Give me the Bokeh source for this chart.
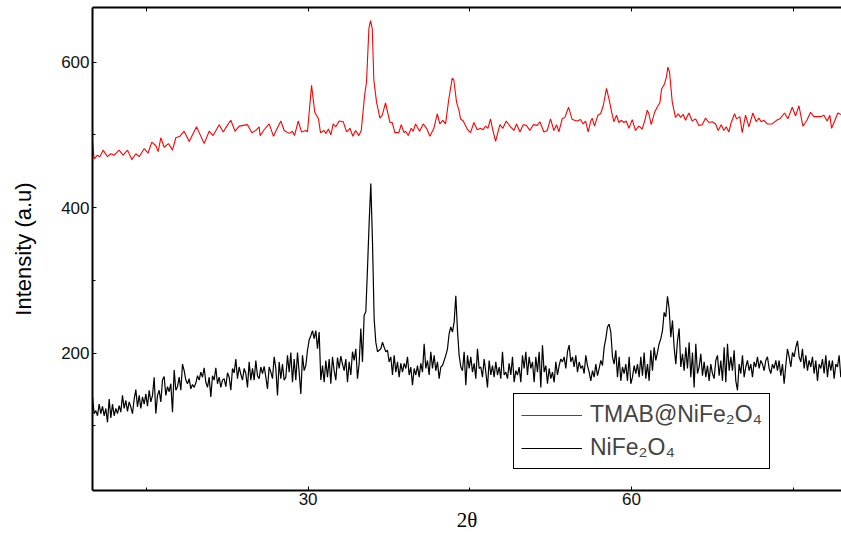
from bokeh.plotting import figure
from bokeh.models import (Range1d, SingleIntervalTicker, FixedTicker, LinearAxis,
                          Legend, LegendItem)
from bokeh.embed import file_html
from bokeh.resources import INLINE

# ---- data -------------------------------------------------------------
# TMAB@NiFe2O4 (red)
tmab_x = [10.00, 10.15, 10.46, 10.68, 10.99, 11.39, 11.70, 12.01, 12.47, 12.84, 13.25, 13.65, 14.02,
          14.33, 14.79, 15.16, 15.50, 15.88, 16.09, 16.34, 16.65, 17.05, 17.42, 17.73, 18.10, 18.50,
          18.97, 19.65, 19.96, 20.36, 20.82, 21.19, 21.75, 22.12, 22.46, 22.83, 23.23, 23.61, 23.98,
          24.38, 24.78, 25.15, 25.46, 25.55, 25.92, 26.39, 26.79, 27.07, 27.47, 27.78, 28.24, 28.55,
          28.74, 29.08, 29.39, 29.79, 29.94, 30.32, 30.62, 30.96, 31.15, 31.49, 31.65, 31.89, 32.11,
          32.33, 32.57, 32.88,
          33.26, 33.57, 33.88, 34.15, 34.40, 34.71, 34.93, 35.24, 35.42, 35.64, 35.79, 35.95, 36.10,
          36.35, 36.66, 36.88, 37.18, 37.59, 37.80, 38.05, 38.42, 38.64, 38.89, 39.04, 39.29, 39.57,
          39.75, 39.97, 40.34, 40.68, 40.99, 41.30, 41.67, 41.98, 42.22, 42.50, 42.75, 43.06, 43.37,
          43.52, 43.77, 43.99, 44.14, 44.39, 44.76, 45.07, 45.38, 45.69, 46.00, 46.24, 46.46, 46.68,
          46.92, 47.14, 47.39, 47.79, 48.07, 48.38, 48.78, 49.09, 49.34, 49.65, 49.95, 50.26, 50.57,
          50.88, 51.25, 51.50, 51.87, 52.18, 52.49, 52.80, 53.05, 53.26, 53.57, 53.82, 54.16, 54.50,
          54.96, 55.27, 55.52, 55.74, 55.98, 56.20,
          56.35, 56.57, 56.88, 57.13, 57.38, 57.68, 57.90, 58.12, 58.36, 58.61, 58.83, 59.04, 59.29,
          59.51, 59.76, 60.07, 60.37, 60.68, 60.99, 61.24, 61.46, 61.61, 61.83, 62.14, 62.38, 62.63,
          62.79, 63.06, 63.25, 63.37, 63.53, 63.78, 64.08, 64.33, 64.55, 64.80, 65.01, 65.32, 65.63,
          65.94, 66.25, 66.56, 66.87, 67.18, 67.49, 67.80, 68.04, 68.32, 68.57, 68.79, 69.03, 69.25,
          69.56, 69.74, 70.05, 70.27, 70.58, 70.89, 71.26, 71.57, 71.82, 72.03, 72.28, 72.59, 73.05,
          73.45, 73.76, 74.20, 74.51, 74.91, 75.22, 75.53, 75.90, 76.24, 76.61, 76.92, 77.54, 77.85,
          78.15, 78.40, 78.56, 78.87, 79.14, 79.42]
tmab_y = [491, 467, 472, 470, 479, 470, 474, 472, 479, 472, 479, 466, 474,
          470, 481, 475, 490, 485, 477, 496, 483, 488, 479, 496, 498, 505,
          491, 511, 501, 488, 505, 499, 514, 504, 512, 520, 505, 512, 513,
          514, 503, 506, 511, 499, 507, 515, 498, 507, 519, 506, 502, 505,
          499, 519, 504, 506, 504, 568, 531, 522, 503, 506, 502, 508, 500,
          515, 511, 519,
          518, 504, 509, 498, 506, 499, 506, 554, 573, 646, 657, 646, 575,
          545, 523, 527, 544, 517, 517, 503, 503, 514, 503, 505, 499, 509,
          505, 515, 505, 515, 509, 498, 509, 529, 515, 520, 515, 550, 578,
          575, 545, 534, 522, 519, 508, 503, 517, 507, 509, 507, 512, 509,
          522, 506, 491, 514, 509, 519, 511, 506, 515, 504, 514, 513, 506,
          514, 513, 518, 504, 506, 522, 506, 514, 504, 522, 524, 538, 521,
          519, 521, 515, 519, 504, 518,
          523, 512, 527, 529, 540, 564, 550, 534, 518, 527, 517, 520, 517,
          519, 509, 521, 506, 512, 508, 520, 534, 529, 514, 531, 538, 544,
          563, 570, 580, 593, 586, 545, 524, 529, 524, 528, 520, 530, 519,
          522, 513, 514, 523, 517, 518, 515, 506, 514, 506, 511, 504, 517,
          529, 522, 525, 503, 527, 511, 530, 518, 523, 518, 520, 515, 515,
          520, 522, 530, 522, 538, 526, 540, 512, 519, 531, 525, 525, 527,
          519, 527, 509, 520, 530, 528]

# NiFe2O4 (black): intensities on an even 2-theta grid
nife_start = 10.0
nife_step = 0.1546
nife_y = [140, 117, 121, 114, 130, 117, 127, 114, 124, 105, 137, 111, 130, 114, 124, 117, 128, 119,
          142, 124, 135, 120, 133, 126, 117, 137, 150, 126, 142, 124, 140, 130, 144, 127, 149, 133,
          142, 167, 117, 142, 149, 133, 163, 168, 142, 154, 147, 158, 119, 177, 149, 154, 167, 149,
          185, 176, 163, 158, 165, 151, 157, 153, 159, 169, 163, 174, 167, 180, 160, 153, 167, 140,
          169, 163, 180, 158, 167, 153, 163, 165, 154, 173, 167, 149, 179, 173, 192, 165, 181, 171,
          163, 179, 172, 153, 188, 163, 179, 163, 190, 169, 165, 181, 172, 182, 167, 151, 181, 174,
          165, 195, 179, 142, 188, 165, 185, 163, 167, 197, 174, 201, 160, 192, 163, 201, 174, 144,
          197, 176, 183, 204, 218, 224, 231, 220, 231, 206, 229, 163, 183, 160, 190, 167, 192, 158,
          195, 176, 163, 194, 179, 196, 185,
          176, 192, 160, 188, 170, 202, 190, 206, 165, 186, 234, 188, 252, 257, 316, 380, 433, 353,
          247, 215, 202, 204, 206, 215, 208, 202, 204, 188, 195, 170, 197, 174, 188, 167, 186, 174,
          186, 179, 195, 170, 181, 156, 179, 170, 183, 167, 186, 174, 213, 179, 190, 170, 202, 179,
          197, 176, 188, 165, 181, 183, 190, 197, 206, 227, 236, 229, 243, 279, 231, 197, 181, 176,
          202, 156, 197, 179, 195, 174, 186, 165, 206, 179, 181, 167, 192, 174, 153, 190, 170, 183,
          167, 188, 170, 181, 165, 202, 170, 174, 165, 186, 170, 195, 160, 176, 170, 181, 160, 197,
          179, 202, 170, 195, 179, 188, 160, 195, 174, 202, 153, 211, 174, 183, 158, 179, 165, 174,
          160, 188, 170, 183, 192, 188, 195, 179, 202, 211, 188, 195, 181, 197, 174, 188, 179, 183,
          172, 197, 183, 174,
          162, 176, 167, 185, 169, 179, 190, 183, 208, 220, 236, 240, 229, 195, 185, 204, 167, 195,
          162, 181, 172, 185, 162, 195, 158, 167, 183, 172, 185, 167, 195, 169, 201, 165, 185, 162,
          204, 176, 208, 190, 201, 213, 220, 231, 256, 250, 278, 261, 222, 245, 208, 185, 217, 234,
          181, 199, 176, 208, 179, 215, 167, 201, 153, 213, 172, 181, 199, 169, 188, 167, 183, 162,
          185, 172, 165, 190, 197, 169, 190, 162, 208, 160, 213, 176, 195, 176, 204, 162, 149, 185,
          172, 197, 167, 181, 190, 176, 185, 167, 188, 181, 195, 179, 190, 185, 176, 190, 195, 179,
          172, 185, 179, 190, 176, 190, 169, 185, 158, 183, 206, 195, 181, 201, 195, 208, 217, 195,
          188, 206, 179, 197, 176, 190, 181, 195, 172, 190, 162, 185, 179, 192, 172, 197, 167, 190,
          176, 190, 165, 185, 181, 197, 167]
nife_x = [nife_start + i * nife_step for i in range(len(nife_y))]

x_ticks_interval = 30
y_ticks_interval = 200
top_minor_ticks = [15, 30, 45, 60, 75]
legend_labels = ["TMAB@NiFe\u2082O\u2084", "NiFe\u2082O\u2084"]
x_title = "2\u03b8"
y_title = "Intensity (a.u)"

# ---- figure -----------------------------------------------------------
p = figure(width=841, height=535, output_backend="svg", toolbar_location=None,
           x_range=Range1d(10, 79.48), y_range=Range1d(11.3, 675),
           min_border_left=92, min_border_right=0, min_border_top=7,
           min_border_bottom=45, x_axis_location=None, y_axis_location=None)
p.outline_line_color = None
p.grid.visible = False
p.background_fill_color = "white"
p.border_fill_color = "white"

r_red = p.line(tmab_x, tmab_y, line_color="#ff0000", line_width=1.1)
r_blk = p.line(nife_x, nife_y, line_color="#000000", line_width=1.2)

tick_font = "Liberation Sans"

def style_axis(ax):
    ax.axis_line_width = 2
    ax.axis_line_color = "black"
    ax.major_tick_in = 4
    ax.major_tick_out = 0
    ax.minor_tick_in = 3
    ax.minor_tick_out = 0
    ax.major_tick_line_color = "black"
    ax.minor_tick_line_color = "black"
    ax.major_label_text_font = tick_font
    ax.major_label_text_color = "#111111"
    ax.major_label_text_font_size = "17px"
    ax.major_label_standoff = 3

xaxis = LinearAxis(ticker=SingleIntervalTicker(interval=x_ticks_interval, num_minor_ticks=2))
style_axis(xaxis)
xaxis.major_label_standoff = 2
xaxis.axis_label = x_title
xaxis.axis_label_text_font = "Liberation Serif"
xaxis.axis_label_text_font_size = "21px"
xaxis.axis_label_text_font_style = "normal"
xaxis.axis_label_text_color = "black"
xaxis.axis_label_standoff = 0
p.add_layout(xaxis, "below")

yaxis = LinearAxis(ticker=SingleIntervalTicker(interval=y_ticks_interval, num_minor_ticks=2))
style_axis(yaxis)
yaxis.axis_label = y_title
yaxis.axis_label_text_font = "Liberation Sans"
yaxis.axis_label_text_font_size = "22px"
yaxis.axis_label_text_font_style = "normal"
yaxis.axis_label_text_color = "black"
yaxis.axis_label_standoff = 22
p.add_layout(yaxis, "left")

# top frame line with small inward ticks only (no labels)
top_axis = LinearAxis(ticker=FixedTicker(ticks=[], minor_ticks=top_minor_ticks))
style_axis(top_axis)
top_axis.minor_tick_in = 4
p.add_layout(top_axis, "above")

legend = Legend(items=[LegendItem(label=legend_labels[0], renderers=[r_red]),
                       LegendItem(label=legend_labels[1], renderers=[r_blk])],
                location=(421, 21))
legend.label_text_font = "Liberation Sans"
legend.label_text_font_size = "23px"
legend.glyph_width = 61
legend.glyph_height = 24
legend.label_height = 24
legend.label_standoff = 8
legend.padding = 7
legend.spacing = 6
legend.margin = 0
legend.border_line_color = "black"
legend.border_line_alpha = 1
legend.border_line_width = 1
legend.background_fill_alpha = 1
p.add_layout(legend)

open("out.html", "w").write(file_html(p, INLINE))
